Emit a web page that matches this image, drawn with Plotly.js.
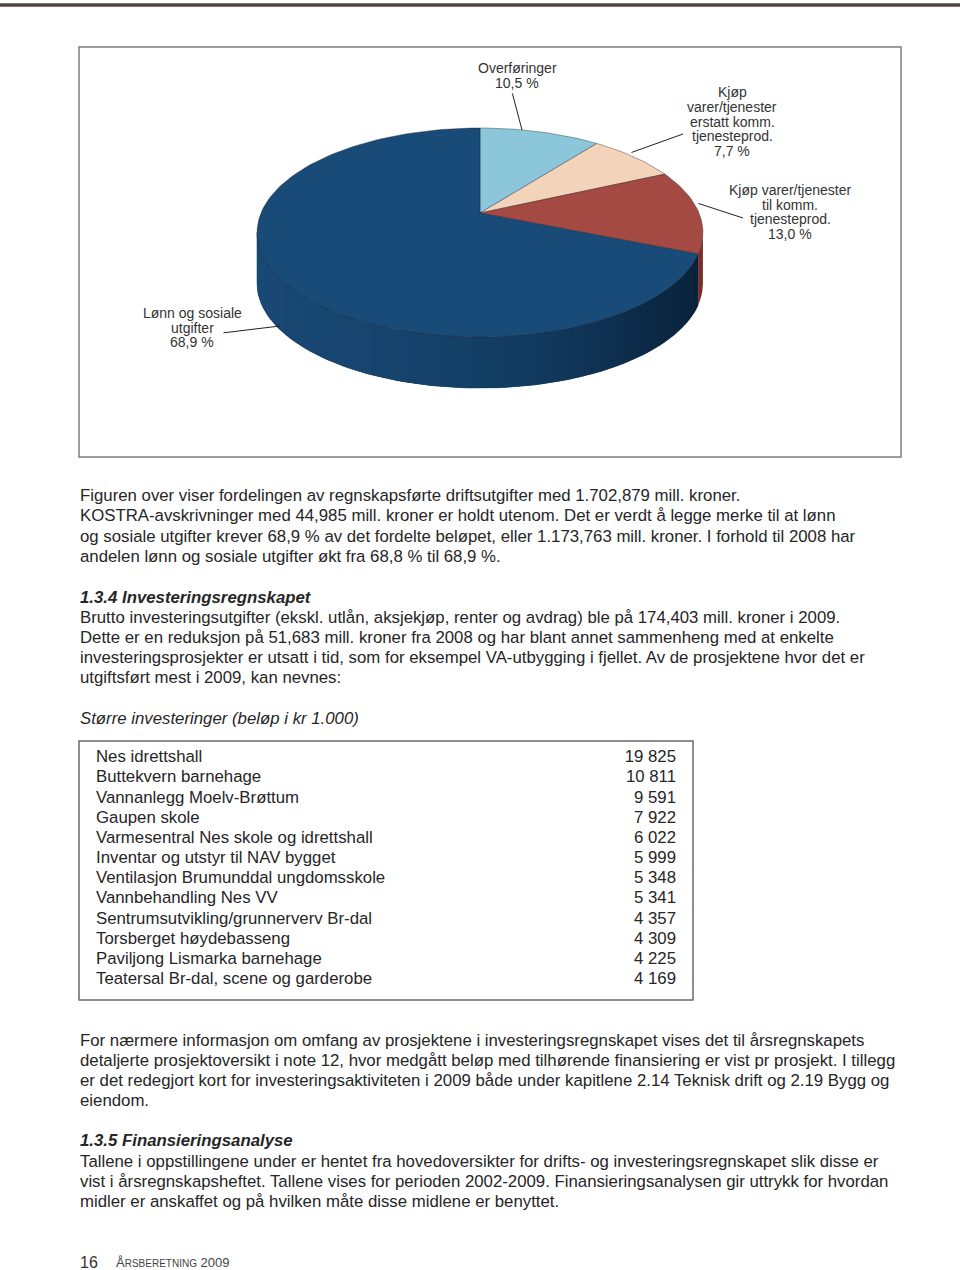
<!DOCTYPE html>
<html><head><meta charset="utf-8">
<script src="https://cdn.plot.ly/plotly-3.0.1.min.js"></script>
<style>html,body{margin:0;padding:0;background:#fff;}#page{width:960px;height:1270px;}</style>
</head><body><div id="page"></div>
<script>
// ---- data ----
const sliceNames = ['Overføringer', 'Kjøp varer/tjenester erstatt komm. tjenesteprod.', 'Kjøp varer/tjenester til komm. tjenesteprod.', 'Lønn og sosiale utgifter'];
const shares = [10.5, 7.7, 13.0, 68.9];
const labelLines = [['Overføringer'], ['Kjøp', 'varer/tjenester', 'erstatt komm.', 'tjenesteprod.'], ['Kjøp varer/tjenester', 'til komm.', 'tjenesteprod.'], ['Lønn og sosiale', 'utgifter']];
const projects = ['Nes idrettshall', 'Buttekvern barnehage', 'Vannanlegg Moelv-Brøttum', 'Gaupen skole', 'Varmesentral Nes skole og idrettshall', 'Inventar og utstyr til NAV bygget', 'Ventilasjon Brumunddal ungdomsskole', 'Vannbehandling Nes VV', 'Sentrumsutvikling/grunnerverv Br-dal', 'Torsberget høydebasseng', 'Paviljong Lismarka barnehage', 'Teatersal Br-dal, scene og garderobe'];
const amounts = ['19 825', '10 811', '9 591', '7 922', '6 022', '5 999', '5 348', '5 341', '4 357', '4 309', '4 225', '4 169'];

// ---- style ----
const topColors = ['#8cc6da', '#f3d3b9', '#a44a43', '#184b78'];
const sideRed = '#7b2e29';
const FONT = 'Liberation Sans, Arial, sans-serif';
const TXT = '#262626';
const FS = 16.8;

// pie projection (perspective tilted disc)
const PC = {cx: 480, cy: 213, A: 219, B: 100.9, k: 0.1866, depth: 51};
function proj(tdeg, dy) {
  const t = tdeg * Math.PI / 180, u = Math.sin(t), v = Math.cos(t), d = 1 + PC.k * v;
  return [PC.cx + PC.A * u / d, PC.cy - PC.B * v / d + (dy || 0)];
}
function hex2rgb(h){return [parseInt(h.slice(1,3),16),parseInt(h.slice(3,5),16),parseInt(h.slice(5,7),16)];}
const sideStops = [[100, '#0f2c49'], [115, '#0a2238'], [140, '#0c2a47'], [170, '#123b60'], [200, '#16446d'], [260, '#1a4b77']];
function sideColor(t) {
  for (let i = 0; i < sideStops.length - 1; i++) {
    const [t0, c0] = sideStops[i], [t1, c1] = sideStops[i + 1];
    if (t <= t1) {
      const f = Math.max(0, (t - t0) / (t1 - t0)), a = hex2rgb(c0), b = hex2rgb(c1);
      return 'rgb(' + a.map((x, j) => Math.round(x + (b[j] - x) * f)).join(',') + ')';
    }
  }
  return sideStops[sideStops.length - 1][1];
}
function band(b0, b1, steps) {
  const xs = [], ys = [];
  for (let n = 0; n <= steps; n++) { const p = proj(b0 + (b1 - b0) * n / steps, 0); xs.push(p[0]); ys.push(p[1]); }
  for (let n = steps; n >= 0; n--) { const p = proj(b0 + (b1 - b0) * n / steps, PC.depth); xs.push(p[0]); ys.push(p[1]); }
  return [xs, ys];
}

const traces = [];
const total = shares.reduce((a, b) => a + b, 0);
const starts = []; let acc = 0;
shares.forEach(s => { starts.push(acc / total * 360); acc += s; });
const tVisL = Math.acos(-PC.k) * 180 / Math.PI, tVisR = 360 - tVisL;

// side walls
shares.forEach((s, i) => {
  const a0 = Math.max(starts[i], tVisL), a1 = Math.min(starts[i] + s / total * 360, tVisR);
  if (a1 <= a0) return;
  if (i === 3) {
    const under = band(a0, a1, 120);
    traces.push({type: 'scatter', mode: 'lines', x: under[0], y: under[1], fill: 'toself', fillcolor: '#123a5e',
      line: {color: '#123a5e', width: 0.6}, hoverinfo: 'skip', showlegend: false});
  }
  const nseg = i === 3 ? Math.ceil((a1 - a0) / 1.5) : 1;
  for (let j = 0; j < nseg; j++) {
    const b0 = a0 + (a1 - a0) * j / nseg, b1 = a0 + (a1 - a0) * (j + 1) / nseg + (i === 3 && j < nseg - 1 ? 0.3 : 0);
    const bd = band(b0, b1, 6);
    const col = i === 3 ? sideColor((b0 + b1) / 2) : sideRed;
    traces.push({type: 'scatter', mode: 'lines', x: bd[0], y: bd[1], fill: 'toself', fillcolor: col,
      line: {width: 0}, hoverinfo: 'skip', showlegend: false});
  }
});
// top faces
shares.forEach((s, i) => {
  const a0 = starts[i], a1 = starts[i] + s / total * 360;
  const xs = [PC.cx], ys = [PC.cy];
  const n = Math.max(4, Math.ceil((a1 - a0) / 1.5));
  for (let j = 0; j <= n; j++) { const p = proj(a0 + (a1 - a0) * j / n, 0); xs.push(p[0]); ys.push(p[1]); }
  xs.push(PC.cx); ys.push(PC.cy);
  traces.push({type: 'scatter', mode: 'lines', x: xs, y: ys, fill: 'toself', fillcolor: topColors[i],
    line: {color: 'rgba(25,30,40,0.55)', width: 0.7}, name: sliceNames[i], hoverinfo: 'name', showlegend: false});
});

// table (text cells on a category axis: one row per project)
const tableFont = {family: FONT, size: FS, color: TXT};
traces.push({type: 'scatter', mode: 'text', xaxis: 'x', yaxis: 'y2', x: projects.map(() => 96), y: projects,
  text: projects, textposition: 'middle right', textfont: tableFont, hoverinfo: 'skip', showlegend: false, cliponaxis: false});
traces.push({type: 'scatter', mode: 'text', xaxis: 'x', yaxis: 'y2', x: projects.map(() => 676), y: projects,
  text: amounts, textposition: 'middle left', textfont: tableFont, hoverinfo: 'skip', showlegend: false, cliponaxis: false});

// annotations
const ann = [];
function addText(x, y, text, opt) {
  ann.push(Object.assign({xref: 'x', yref: 'y', x: x, y: y, text: text, showarrow: false,
    xanchor: 'left', yanchor: 'middle', font: {family: FONT, size: FS, color: TXT}}, opt || {}));
}
// pie labels
const labelPos = [[517, 68, 15], [732, 92, 14.8], [790, 190, 14.7], [192, 313, 14.5]];
labelLines.forEach((lines, i) => {
  const all = lines.concat([shares[i].toFixed(1).replace('.', ',') + ' %']);
  all.forEach((ln, j) => addText(labelPos[i][0], labelPos[i][1] + j * labelPos[i][2], ln,
    {xanchor: 'center', font: {family: FONT, size: 14, color: '#333'}}));
});
// leader lines
const leaders = [[512, 92, 522, 130], [630, 153, 683, 134], [697, 203, 743, 218], [222, 333, 280, 326]];
leaders.forEach(l => ann.push({xref: 'x', yref: 'y', axref: 'x', ayref: 'y', x: l[2], y: l[3], ax: l[0], ay: l[1],
  text: '', showarrow: true, arrowhead: 0, arrowwidth: 1, arrowcolor: '#222'}));

const para1 = ['Figuren over viser fordelingen av regnskapsførte driftsutgifter med 1.702,879 mill. kroner.',
  'KOSTRA-avskrivninger med 44,985 mill. kroner er holdt utenom. Det er verdt å legge merke til at lønn',
  'og sosiale utgifter krever 68,9 % av det fordelte beløpet, eller 1.173,763 mill. kroner. I forhold til 2008 har',
  'andelen lønn og sosiale utgifter økt fra 68,8 % til 68,9 %.'];
const para2 = ['Brutto investeringsutgifter (ekskl. utlån, aksjekjøp, renter og avdrag) ble på 174,403 mill. kroner i 2009.',
  'Dette er en reduksjon på 51,683 mill. kroner fra 2008 og har blant annet sammenheng med at enkelte',
  'investeringsprosjekter er utsatt i tid, som for eksempel VA-utbygging i fjellet. Av de prosjektene hvor det er',
  'utgiftsført mest i 2009, kan nevnes:'];
const para3 = ['For nærmere informasjon om omfang av prosjektene i investeringsregnskapet vises det til årsregnskapets',
  'detaljerte prosjektoversikt i note 12, hvor medgått beløp med tilhørende finansiering er vist pr prosjekt. I tillegg',
  'er det redegjort kort for investeringsaktiviteten i 2009 både under kapitlene 2.14 Teknisk drift og 2.19 Bygg og',
  'eiendom.'];
const para4 = ['Tallene i oppstillingene under er hentet fra hovedoversikter for drifts- og investeringsregnskapet slik disse er',
  'vist i årsregnskapsheftet. Tallene vises for perioden 2002-2009. Finansieringsanalysen gir uttrykk for hvordan',
  'midler er anskaffet og på hvilken måte disse midlene er benyttet.'];
function addPara(lines, y0, step) { lines.forEach((ln, i) => addText(78, y0 + i * step, ln)); }
addPara(para1, 495, 20.6);
addText(78, 597, '<b><i>1.3.4 Investeringsregnskapet</i></b>');
addPara(para2, 617, 20.3);
addText(78, 718, '<i>Større investeringer (beløp i kr 1.000)</i>');
addPara(para3, 1040, 20.2);
addText(78, 1140, '<b><i>1.3.5 Finansieringsanalyse</i></b>');
addPara(para4, 1161, 20.2);
addText(78, 1262, '16', {font: {family: FONT, size: 16, color: '#333'}});
addText(114, 1262, 'Å<span style="font-size:10px">RSBERETNING</span> 2009', {font: {family: FONT, size: 13, color: '#444'}});

const shapes = [
  {type: 'rect', xref: 'paper', yref: 'y', x0: 0, x1: 1, y0: 3.3, y1: 6.7, fillcolor: '#52443f', line: {width: 0}},
  {type: 'rect', xref: 'x', yref: 'y', x0: 79, x1: 901, y0: 47, y1: 457, line: {color: '#7d7d7d', width: 1.5}},
  {type: 'rect', xref: 'x', yref: 'y', x0: 79, x1: 693, y0: 741, y1: 1000, line: {color: '#6a6a6a', width: 1.5}}
];

const rowPitch = 20.18, rowTop = 758 - rowPitch / 2, rowBot = rowTop + rowPitch * projects.length;
const layout = {
  width: 960, height: 1270, margin: {l: 0, r: 0, t: 0, b: 0},
  paper_bgcolor: '#fff', plot_bgcolor: 'rgba(0,0,0,0)', showlegend: false,
  xaxis: {range: [0, 960], domain: [0, 1], visible: false, fixedrange: true},
  yaxis: {range: [1270, 0], domain: [0, 1], visible: false, fixedrange: true},
  yaxis2: {type: 'category', categoryarray: projects, categoryorder: 'array', range: [projects.length - 0.5, -0.5],
    domain: [1 - rowBot / 1270, 1 - rowTop / 1270], visible: false, fixedrange: true, anchor: 'x'},
  annotations: ann, shapes: shapes
};
Plotly.newPlot('page', traces, layout, {displayModeBar: false, staticPlot: true});
</script></body></html>
